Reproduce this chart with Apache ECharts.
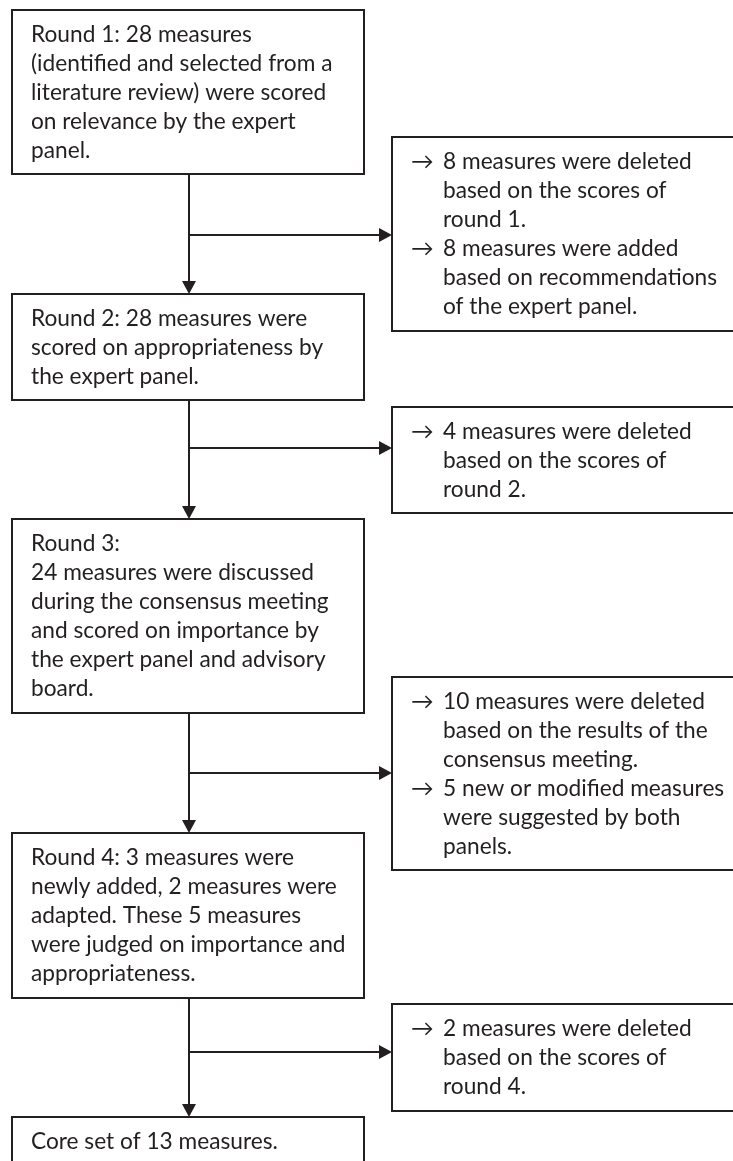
<!DOCTYPE html>
<html>
<head>
<meta charset="utf-8">
<script src="https://cdn.jsdelivr.net/npm/echarts@6/dist/echarts.min.js"></script>
<style>
  html, body { margin: 0; padding: 0; background: #fff; }
  #chart { width: 733px; height: 1161px; }
</style>
</head>
<body>
<div id="chart"></div>
<script>
// box texts, line by line as in the figure
const roundLines = [
  ['Round 1: 28 measures', '(identified and selected from a', 'literature review) were scored', 'on relevance by the expert', 'panel.'],
  ['Round 2: 28 measures were', 'scored on appropriateness by', 'the expert panel.'],
  ['Round 3:', '24 measures were discussed', 'during the consensus meeting', 'and scored on importance by', 'the expert panel and advisory', 'board.'],
  ['Round 4: 3 measures were', 'newly added, 2 measures were', 'adapted. These 5 measures', 'were judged on importance and', 'appropriateness.'],
  ['Core set of 13 measures.']
]
const outcomeItems = [
  [['8 measures were deleted', 'based on the scores of', 'round 1.'], ['8 measures were added', 'based on recommendations', 'of the expert panel.']],
  [['4 measures were deleted', 'based on the scores of', 'round 2.']],
  [['10 measures were deleted', 'based on the results of the', 'consensus meeting.'], ['5 new or modified measures', 'were suggested by both', 'panels.']],
  [['2 measures were deleted', 'based on the scores of', 'round 4.']]
]

// layout in px (top, bottom)
const roundBoxes = [[10, 174], [294, 400], [519, 713], [833, 998], [1117, 1180]]
const outcomeBoxes = [[137, 331], [407, 513], [677, 870], [1004, 1111]]
const branchY = [235, 448, 773, 1052]

const LEFT_X = 12, LEFT_W = 352, TRUNK_X = 189
const RIGHT_X = 392, RIGHT_W = 360
const LINE_H = 29
const TEXT_OFFSET = 24.5
const INK = '#231f20'
const FONT = '22.7px Lato, "DejaVu Sans", sans-serif'

const elements = []

function box(x, y, w, h) {
  elements.push({
    type: 'rect',
    shape: { x: x, y: y, width: w, height: h },
    style: { fill: '#fff', stroke: INK, lineWidth: 2 },
    z: 1
  })
}
function text(x, y, str) {
  elements.push({
    type: 'text',
    x: x, y: y,
    style: { text: str, font: FONT, fill: INK, lineHeight: LINE_H, verticalAlign: 'top', align: 'left' },
    z: 3
  })
}
function line(x1, y1, x2, y2) {
  elements.push({
    type: 'line',
    shape: { x1: x1, y1: y1, x2: x2, y2: y2 },
    style: { stroke: INK, lineWidth: 2 },
    z: 0
  })
}
function head(points) {
  elements.push({ type: 'polygon', shape: { points: points }, style: { fill: INK }, z: 2 })
}

roundLines.forEach((lines, i) => {
  const [top, bottom] = roundBoxes[i]
  box(LEFT_X, top, LEFT_W, bottom - top)
  text(31, top + TEXT_OFFSET - LINE_H / 2, lines.join('\n'))
  if (i < roundLines.length - 1) {
    const nextTop = roundBoxes[i + 1][0]
    line(TRUNK_X, bottom, TRUNK_X, nextTop - 10)
    head([[TRUNK_X - 7, nextTop - 13], [TRUNK_X + 7, nextTop - 13], [TRUNK_X, nextTop]])
  }
})

outcomeItems.forEach((items, i) => {
  const [top, bottom] = outcomeBoxes[i]
  box(RIGHT_X, top, RIGHT_W, bottom - top)
  let y = top + TEXT_OFFSET - LINE_H / 2
  items.forEach(lines => {
    text(411, y, '\u2192')
    text(443, y, lines.join('\n'))
    y += lines.length * LINE_H
  })
  line(TRUNK_X, branchY[i], RIGHT_X - 10, branchY[i])
  head([[RIGHT_X - 13, branchY[i] - 7], [RIGHT_X - 13, branchY[i] + 7], [RIGHT_X, branchY[i]]])
})

const chart = echarts.init(document.getElementById('chart'))
chart.setOption({
  backgroundColor: '#fff',
  animation: false,
  graphic: { elements: elements }
})
</script>
</body>
</html>
